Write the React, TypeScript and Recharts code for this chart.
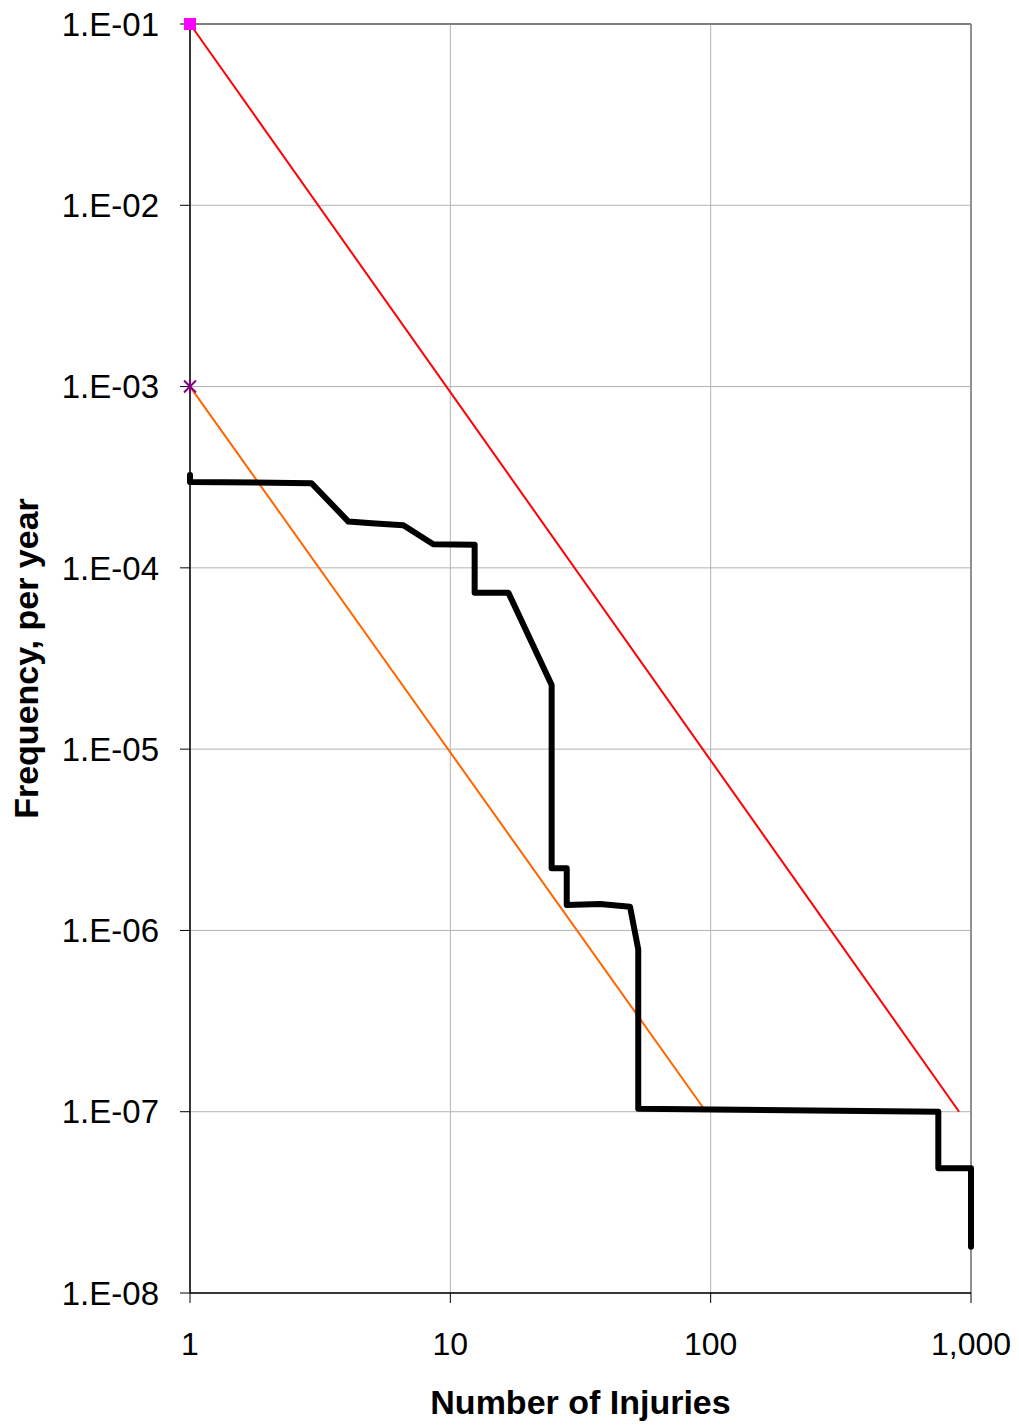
import React from "react";
import {
  ComposedChart,
  Line,
  Scatter,
  XAxis,
  YAxis,
  CartesianGrid,
  ReferenceLine,
} from "recharts";

// F-N curve (societal risk) - step curve
const injuries = [
  1, 1, 2.93, 4.06, 4.99, 6.6, 8.6, 12.4, 12.4, 16.7, 24.5, 24.5, 28, 28, 37.6,
  49, 52.7, 52.7, 749, 749, 1000, 1000,
];
const frequency = [
  3.25e-4, 2.98e-4, 2.93e-4, 1.8e-4, 1.76e-4, 1.72e-4, 1.35e-4, 1.34e-4, 7.3e-5,
  7.3e-5, 2.26e-5, 2.2e-6, 2.2e-6, 1.38e-6, 1.4e-6, 1.35e-6, 7.87e-7, 1.04e-7,
  1.0e-7, 4.88e-8, 4.88e-8, 1.8e-8,
];

// criterion lines
const upperX = [1, 900];
const upperY = [1e-1, 1e-7];
const lowerX = [1, 96];
const lowerY = [1e-3, 1e-7];

// anchor markers
const upperAnchor = [{ x: 1, y: 1e-1 }];
const lowerAnchor = [{ x: 1, y: 1e-3 }];

const xTicks = [1, 10, 100, 1000];
const yTicks = [1e-8, 1e-7, 1e-6, 1e-5, 1e-4, 1e-3, 1e-2, 1e-1];

const FONT = "'Liberation Sans', Arial, sans-serif";

const toPoints = (xs: number[], ys: number[]) =>
  xs.map((x, i) => ({ x, y: ys[i] }));

const fnData = toPoints(injuries, frequency);
const upperData = toPoints(upperX, upperY);
const lowerData = toPoints(lowerX, lowerY);

const formatY = (v: number) => {
  const exp = Math.round(Math.log10(v));
  return `1.E-${String(-exp).padStart(2, "0")}`;
};

const formatX = (v: number) => v.toLocaleString("en-US");

const SquareMarker = (props: any) => {
  const { cx, cy } = props;
  return <rect x={cx - 6} y={cy - 6} width={12} height={12} fill="#ff00ff" />;
};

const AsteriskMarker = (props: any) => {
  const { cx, cy } = props;
  const r = 6;
  return (
    <g stroke="#800080" strokeWidth={2}>
      <line x1={cx - r} y1={cy - r} x2={cx + r} y2={cy + r} />
      <line x1={cx - r} y1={cy + r} x2={cx + r} y2={cy - r} />
      <line x1={cx} y1={cy - r - 1} x2={cx} y2={cy + r + 1} />
    </g>
  );
};

export default function App() {
  return (
    <div style={{ position: "absolute", left: 0, top: 0, background: "#fff" }}>
      <ComposedChart
        width={1019}
        height={1425}
        margin={{ top: 24, right: 48, left: 0, bottom: 0 }}
      >
        <CartesianGrid stroke="#b3b3b3" strokeWidth={1} />
        <XAxis
          dataKey="x"
          type="number"
          scale="log"
          domain={[1, 1000]}
          ticks={xTicks}
          tickFormatter={formatX}
          height={132}
          tickSize={10}
          tickMargin={29}
          stroke="#000"
          axisLine={{ stroke: "#000", strokeWidth: 1.5 }}
          tick={{ fontSize: 32, fill: "#000", fontFamily: FONT }}
          label={{
            value: "Number of Injuries",
            position: "insideBottom",
            offset: 11,
            style: {
              fontSize: 34,
              fontWeight: "bold",
              fill: "#000",
              fontFamily: FONT,
            },
          }}
        />
        <YAxis
          dataKey="y"
          type="number"
          scale="log"
          domain={[1e-8, 1e-1]}
          ticks={yTicks}
          tickFormatter={formatY}
          width={190}
          tickSize={10}
          tickMargin={21}
          stroke="#000"
          axisLine={{ stroke: "#000", strokeWidth: 1.5 }}
          tick={{ fontSize: 33, fill: "#000", fontFamily: FONT }}
          label={{
            value: "Frequency, per year",
            angle: -90,
            position: "insideLeft",
            offset: 26,
            style: {
              fontSize: 34,
              fontWeight: "bold",
              fill: "#000",
              fontFamily: FONT,
              textAnchor: "middle",
            },
          }}
        />
        <ReferenceLine y={1e-1} stroke="#808080" strokeWidth={2} />
        <ReferenceLine x={1000} stroke="#909090" strokeWidth={2} />
        <Line
          data={upperData}
          dataKey="y"
          stroke="#ff0000"
          strokeWidth={2}
          dot={false}
          isAnimationActive={false}
        />
        <Line
          data={lowerData}
          dataKey="y"
          stroke="#ff6600"
          strokeWidth={2}
          dot={false}
          isAnimationActive={false}
        />
        <Line
          data={fnData}
          dataKey="y"
          stroke="#000"
          strokeWidth={6}
          strokeLinejoin="round"
          strokeLinecap="round"
          dot={false}
          isAnimationActive={false}
        />
        <Scatter
          data={upperAnchor}
          dataKey="y"
          shape={SquareMarker}
          isAnimationActive={false}
        />
        <Scatter
          data={lowerAnchor}
          dataKey="y"
          shape={AsteriskMarker}
          isAnimationActive={false}
        />
      </ComposedChart>
    </div>
  );
}
